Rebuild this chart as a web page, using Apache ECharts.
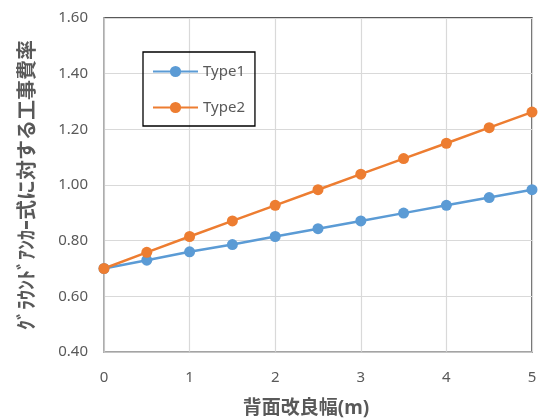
<!DOCTYPE html>
<html><head><meta charset="utf-8">
<script src="https://cdn.jsdelivr.net/npm/echarts@6/dist/echarts.min.js"></script>
<style>html,body{margin:0;padding:0;background:#fff}#c{width:545px;height:418px}</style>
</head><body><div id="c"></div>
<script>
const xValues = [0, 0.5, 1, 1.5, 2, 2.5, 3, 3.5, 4, 4.5, 5];
const type1 = [0.70, 0.73, 0.76, 0.786, 0.815, 0.843, 0.871, 0.899, 0.927, 0.955, 0.983];
const type2 = [0.70, 0.758, 0.815, 0.871, 0.927, 0.983, 1.039, 1.095, 1.150, 1.206, 1.262];
const seriesNames = ['Type1', 'Type2'];
const xAxisName = '背面改良幅(m)';
const yAxisName = 'ｸﾞﾗｳﾝﾄﾞｱﾝｶｰ式に対する工事費率';

const font = '"Noto Sans", "Noto Sans CJK JP", sans-serif';
const chart = echarts.init(document.getElementById('c'));
const mk = (name, vals, color) => ({
  name, type: 'line', data: xValues.map((x, i) => [x, vals[i]]),
  symbol: 'circle', symbolSize: 11,
  lineStyle: { width: 2.5, color }, itemStyle: { color },
  emphasis: { disabled: true }, animation: false
});
chart.setOption({
  animation: false,
  textStyle: { fontFamily: font },
  grid: { left: 104, right: 13, top: 18, bottom: 66, outerBoundsMode: 'none', containLabel: false,
    show: true, borderColor: '#222', borderWidth: 1.3, backgroundColor: 'transparent' },
  legend: {
    orient: 'vertical', left: 143, top: 52,
    padding: [12, 10, 11, 9], itemGap: 21, itemWidth: 45, itemHeight: 14,
    borderColor: '#000', borderWidth: 1.3,
    textStyle: { fontSize: 15, color: '#595959', fontFamily: font },
    data: seriesNames
  },
  xAxis: {
    type: 'value', min: 0, max: 5, interval: 1,
    name: xAxisName, nameLocation: 'middle', nameGap: 47,
    nameTextStyle: { fontSize: 19, fontWeight: 'bold', color: '#595959', fontFamily: font, padding: [0, 24, 0, 0] },
    axisLine: { show: true, lineStyle: { color: '#bfbfbf', width: 1.5 } },
    axisTick: { show: false },
    axisLabel: { fontSize: 15, color: '#595959', margin: 18 },
    splitLine: { show: true, lineStyle: { color: '#d9d9d9', width: 1.2 } }
  },
  yAxis: {
    type: 'value', min: 0.4, max: 1.6, interval: 0.2,
    name: yAxisName, nameLocation: 'middle', nameGap: 66,
    nameTextStyle: { fontSize: 20, fontWeight: 'bold', color: '#595959', fontFamily: font },
    axisLine: { show: true, lineStyle: { color: '#bfbfbf', width: 1.5 } },
    axisTick: { show: false },
    axisLabel: { fontSize: 15, color: '#595959', margin: 16, formatter: v => v.toFixed(2) },
    splitLine: { show: true, lineStyle: { color: '#d9d9d9', width: 1.2 } }
  },
  series: [mk(seriesNames[0], type1, '#5B9BD5'), mk(seriesNames[1], type2, '#ED7D31')]
});
</script></body></html>
